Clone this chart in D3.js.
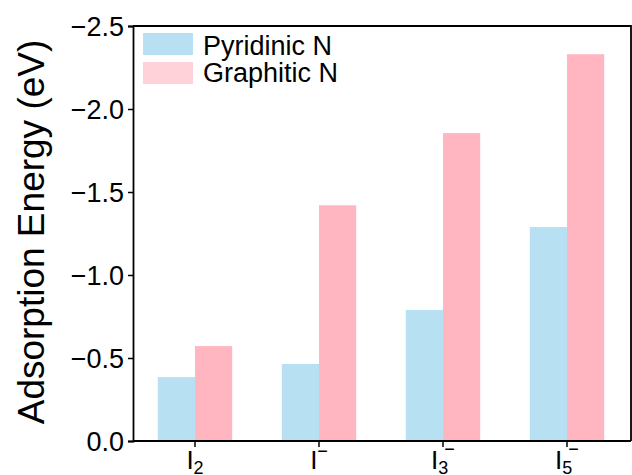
<!DOCTYPE html>
<html>
<head>
<meta charset="utf-8">
<script src="https://cdn.jsdelivr.net/npm/d3@7"></script>
<style>
  html, body { margin: 0; padding: 0; background: #fff; }
  svg { display: block; }
  text { font-family: "Liberation Sans", Arial, sans-serif; fill: #000; }
</style>
</head>
<body>
<svg id="chart" width="632" height="475"></svg>
<script>
const categories = ["I2", "I-", "I3-", "I5-"];
const labelBase = ["I", "I", "I", "I"];
const labelSub = ["2", "", "3", "5"];
const labelSup = ["", "\u2212", "\u2212", "\u2212"];
const seriesNames = ["Pyridinic N", "Graphitic N"];
const pyridinic = [-0.385, -0.464, -0.789, -1.289];
const graphitic = [-0.572, -1.42, -1.855, -2.33];
const yTicks = [0, -0.5, -1.0, -1.5, -2.0, -2.5];
const barColors = ["#b7e1f2", "#ffb6c1"];
const legendColors = ["#b7e1f2", "#ffd1d8"];

const svg = d3.select("#chart");
const mLeft = 133, mRight = 631, mTop = 26, mBottom = 441;

const x = d3.scaleBand().domain(categories).range([mLeft, 629]).paddingInner(0.4).paddingOuter(0.2);
const xs = d3.scaleBand().domain(seriesNames).range([0, x.bandwidth()]);
const y = d3.scaleLinear().domain([0, -2.5]).range([mBottom, mTop]);

const seriesVals = [pyridinic, graphitic];

// bars
seriesNames.forEach((s, si) => {
  svg.append("g").selectAll("rect")
    .data(categories.map((c, i) => ({c, v: seriesVals[si][i]})))
    .join("rect")
    .attr("x", d => x(d.c) + xs(s))
    .attr("width", xs.bandwidth())
    .attr("y", d => y(d.v))
    .attr("height", d => y(0) - y(d.v))
    .attr("fill", barColors[si]);
});

// frame
svg.append("path")
  .attr("d", `M${mLeft},${mTop}H${mRight}V${mBottom}`)
  .attr("fill", "none").attr("stroke", "#000").attr("stroke-width", 1.8);

// y axis
const yAxis = svg.append("g").attr("transform", `translate(${mLeft},0)`)
  .call(d3.axisLeft(y).tickValues(yTicks).tickFormat(d3.format(".1f")).tickSize(5).tickPadding(4));
yAxis.select(".domain").attr("stroke-width", 1.8);
yAxis.selectAll(".tick line").attr("stroke-width", 1.5);
yAxis.selectAll("text").style("font-size", "27px").attr("font-family", null).attr("dy", "0.36em");

// x axis
const xAxis = svg.append("g").attr("transform", `translate(0,${mBottom})`)
  .call(d3.axisBottom(x).tickSize(6).tickFormat(""));
xAxis.select(".domain").attr("d", `M${mLeft},0H${mRight}`).attr("stroke-width", 1.8);
xAxis.selectAll(".tick line").attr("stroke-width", 1.5);

categories.forEach((c, i) => {
  const t = svg.append("text")
    .attr("x", x(c) + x.bandwidth() / 2)
    .attr("y", 469)
    .attr("text-anchor", "middle")
    .style("font-size", "26px");
  t.append("tspan").text(labelBase[i]);
  if (labelSub[i]) {
    t.append("tspan").text(labelSub[i]).style("font-size", "18px").attr("dy", 5);
  }
  if (labelSup[i]) {
    const sp = t.append("tspan").text(labelSup[i]).style("font-size", "18px");
    if (labelSub[i]) sp.attr("dx", -4).attr("dy", -19);
    else sp.attr("dy", -12);
  }
});

// y title
svg.append("text")
  .attr("transform", "translate(44,232) rotate(-90)")
  .attr("text-anchor", "middle")
  .style("font-size", "37px")
  .text("Adsorption Energy (eV)");

// legend
seriesNames.forEach((s, i) => {
  svg.append("rect")
    .attr("x", 143).attr("y", 33 + i * 29)
    .attr("width", 50).attr("height", 22)
    .attr("fill", legendColors[i]);
  svg.append("text")
    .attr("x", 203).attr("y", 55 + i * 27)
    .style("font-size", "27px")
    .text(s);
});
</script>
</body>
</html>
